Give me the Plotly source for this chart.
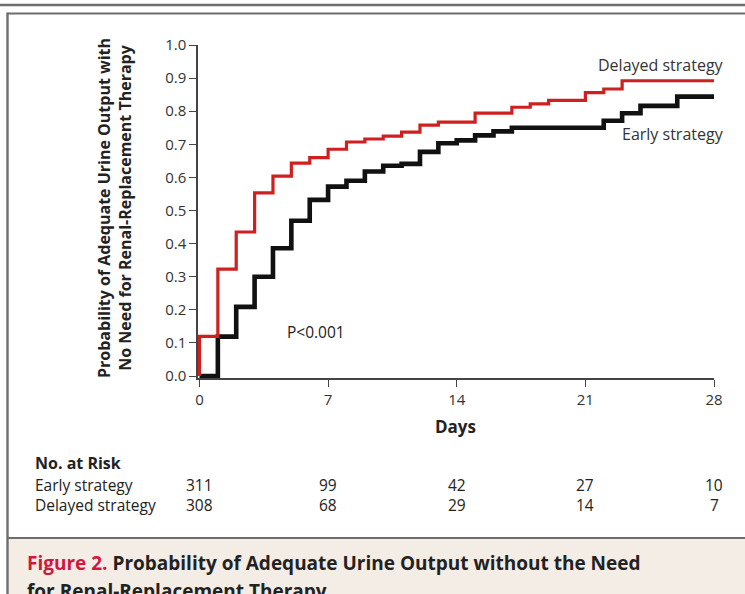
import plotly.graph_objects as go

# ---- data ----
days_delayed = [0, 0, 1, 2, 3, 4, 5, 6, 7, 8, 9, 10, 11, 12, 13, 15, 17, 18, 19, 21, 22, 23, 28]
prob_delayed = [0, 0.12, 0.323, 0.435, 0.553, 0.604, 0.643, 0.66, 0.685, 0.707, 0.716, 0.725,
                0.737, 0.758, 0.767, 0.794, 0.812, 0.822, 0.833, 0.856, 0.867, 0.892, 0.892]

days_early = [0, 1, 2, 3, 4, 5, 6, 7, 8, 9, 10, 11, 12, 13, 14, 15, 16, 17, 22, 23, 24, 26, 28]
prob_early = [0, 0.119, 0.209, 0.30, 0.386, 0.469, 0.532, 0.572, 0.59, 0.618, 0.635, 0.641,
              0.677, 0.703, 0.712, 0.727, 0.739, 0.75, 0.771, 0.794, 0.816, 0.844, 0.844]

x_ticks = [0, 7, 14, 21, 28]
y_ticks = [0.0, 0.1, 0.2, 0.3, 0.4, 0.5, 0.6, 0.7, 0.8, 0.9, 1.0]

risk_days = [0, 7, 14, 21, 28]
risk_early = [311, 99, 42, 27, 10]
risk_delayed = [308, 68, 29, 14, 7]

# ---- layout geometry (pixels) ----
W, H = 745, 594
L, R, T, B = 198, 714, 45, 378
FONT = "Open Sans"
DARK = "#222222"
RED = "#d01f1f"


def px_x(px):
    return (px - L) / (R - L)


def px_y(py):
    return (B - py) / (B - T)


def note(text, x, y, size=16, xanchor="center", xref="paper", yref="paper", color=DARK, **kw):
    return dict(xref=xref, yref=yref, x=x, y=y, text=text, showarrow=False,
                xanchor=xanchor, yanchor="middle", borderpad=0,
                font=dict(family=FONT, size=size, color=color), **kw)


fig = go.Figure()
fig.add_trace(go.Scatter(x=days_early, y=prob_early, mode="lines", line_shape="hv",
                         line=dict(color="#111111", width=4.6), name="Early strategy",
                         showlegend=False, hoverinfo="skip"))
fig.add_trace(go.Scatter(x=days_delayed, y=prob_delayed, mode="lines", line_shape="hv",
                         line=dict(color=RED, width=3.2), name="Delayed strategy",
                         showlegend=False, hoverinfo="skip"))

ann = []
ann.append(note("<b>Probability of Adequate Urine Output with<br>No Need for Renal-Replacement Therapy</b>",
                px_x(114), px_y(208), size=16, textangle=-90))
ann.append(note("<b>Days</b>", px_x(455), px_y(427), size=17))
ann.append(note("P<0.001", 6.36, 0.133, size=15.5, xref="x", yref="y"))
ann.append(note("Delayed strategy", px_x(725), px_y(65), xanchor="right", color="#333"))
ann.append(note("Early strategy", px_x(725), px_y(134), xanchor="right", color="#333"))
ann.append(note("<b>No. at Risk</b>", px_x(34), px_y(463), size=16, xanchor="left"))
ann.append(note("Early strategy", px_x(34), px_y(484.5), size=15.5, xanchor="left"))
ann.append(note("Delayed strategy", px_x(34), px_y(504.5), size=15.5, xanchor="left"))
for d, e, dl in zip(risk_days, risk_early, risk_delayed):
    ann.append(note(str(e), d, px_y(484.5), size=15.5, xref="x"))
    ann.append(note(str(dl), d, px_y(504.5), size=15.5, xref="x"))
ann.append(note("<b><span style='color:#d2173d'>Figure 2.</span> Probability of Adequate Urine Output without the Need</b>",
                px_x(26), px_y(563), size=19, xanchor="left"))
ann.append(note("<b>for Renal-Replacement Therapy.</b>", px_x(26), px_y(591), size=19, xanchor="left"))

GREY = "#6e6e6e"
shapes = [
    dict(type="rect", xref="paper", yref="paper", x0=px_x(8.5), x1=px_x(760), y0=px_y(539), y1=px_y(610),
         fillcolor="#f3ede5", line=dict(width=0), layer="below"),
    dict(type="line", xref="paper", yref="paper", x0=px_x(-5), x1=px_x(760), y0=px_y(5), y1=px_y(5),
         line=dict(color=GREY, width=2.5)),
    dict(type="line", xref="paper", yref="paper", x0=px_x(7.5), x1=px_x(760), y0=px_y(13.5), y1=px_y(13.5),
         line=dict(color=GREY, width=2.2)),
    dict(type="line", xref="paper", yref="paper", x0=px_x(7.5), x1=px_x(7.5), y0=px_y(12.5), y1=px_y(610),
         line=dict(color=GREY, width=2.4)),
    dict(type="line", xref="paper", yref="paper", x0=px_x(7.5), x1=px_x(760), y0=px_y(538), y1=px_y(538),
         line=dict(color=GREY, width=2.2)),
]

fig.update_layout(
    width=W, height=H,
    margin=dict(l=L, r=W - R, t=T, b=H - B, pad=0),
    paper_bgcolor="white", plot_bgcolor="white",
    annotations=ann, shapes=shapes,
    xaxis=dict(range=[-0.08, 28], tickvals=x_ticks, ticks="outside", ticklen=7, tickwidth=1.3,
               tickcolor="#444", showline=True, linecolor="#444", linewidth=1.5, showgrid=False,
               zeroline=False, tickfont=dict(family=FONT, size=15, color="#333")),
    yaxis=dict(range=[-0.006, 1.0], tickvals=y_ticks, tickformat=".1f", ticks="outside", ticklen=7,
               tickwidth=1.3, tickcolor="#444", showline=True, linecolor="#444", linewidth=1.5,
               showgrid=False, zeroline=False, tickfont=dict(family=FONT, size=15, color="#333")),
)

fig.write_html("out.html", config={"displayModeBar": False},
               post_script="document.body.style.margin='0';document.body.style.overflow='hidden';")
